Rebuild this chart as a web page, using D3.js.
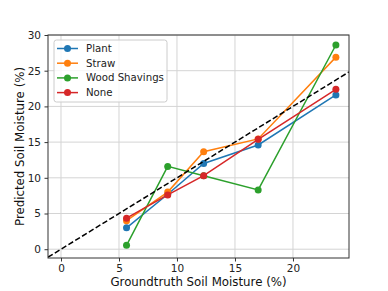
<!DOCTYPE html>
<html>
<head>
<meta charset="utf-8">
<script src="https://cdn.jsdelivr.net/npm/d3@7"></script>
<style>
  body { margin: 0; background: #fff; }
  svg { font-family: "DejaVu Sans", sans-serif; }
</style>
</head>
<body>
<div id="chart"></div>
<script>
var groundtruth = [5.65, 9.2, 12.3, 17.0, 23.7];
var plant = [3.0, 7.7, 12.0, 14.6, 21.6];
var straw = [4.0, 8.0, 13.65, 15.45, 26.9];
var woodShavings = [0.55, 11.6, 10.3, 8.3, 28.6];
var none = [4.35, 7.6, 10.3, 15.4, 22.4];
var seriesNames = ["Plant", "Straw", "Wood Shavings", "None"];
var seriesColors = ["#1f77b4", "#ff7f0e", "#2ca02c", "#d62728"];
var xTicks = [0, 5, 10, 15, 20];
var yTicks = [0, 5, 10, 15, 20, 25, 30];

var width = 388, height = 291;
var plotL = 48, plotT = 35, plotR = 349, plotB = 258;

var svg = d3.select('#chart').append('svg')
  .attr('width', width)
  .attr('height', height);

var x = d3.scaleLinear().domain([-1.12, 24.83]).range([plotL, plotR]);
var y = d3.scaleLinear().domain([-1.23, 30.0]).range([plotB, plotT]);

// grid
svg.append('g').selectAll('line')
  .data(xTicks).enter().append('line')
  .attr('x1', function (d) { return x(d); })
  .attr('x2', function (d) { return x(d); })
  .attr('y1', plotT).attr('y2', plotB)
  .style('stroke', '#d4d4d4').style('stroke-width', 1);
svg.append('g').selectAll('line')
  .data(yTicks).enter().append('line')
  .attr('y1', function (d) { return y(d); })
  .attr('y2', function (d) { return y(d); })
  .attr('x1', plotL).attr('x2', plotR)
  .style('stroke', '#d4d4d4').style('stroke-width', 1);

// axes
var xAxis = svg.append('g')
  .attr('transform', 'translate(0,' + plotB + ')')
  .call(d3.axisBottom(x).tickValues(xTicks).tickSize(3.5).tickPadding(3.5));
var yAxis = svg.append('g')
  .attr('transform', 'translate(' + plotL + ',0)')
  .call(d3.axisLeft(y).tickValues(yTicks).tickSize(3.5).tickPadding(3.5));
[xAxis, yAxis].forEach(function (a) {
  a.select('.domain').remove();
  a.selectAll('text').style('font-size', '10.5px').style('fill', '#222')
    .style('font-family', '"DejaVu Sans", sans-serif');
  a.selectAll('line').style('stroke', '#333');
});

// series
var allSeries = [plant, straw, woodShavings, none];
var line = d3.line()
  .x(function (d, i) { return x(groundtruth[i]); })
  .y(function (d) { return y(d); });

allSeries.forEach(function (vals, k) {
  svg.append('path')
    .datum(vals)
    .attr('d', line)
    .style('fill', 'none')
    .style('stroke', seriesColors[k])
    .style('stroke-width', 1.5);
  svg.selectAll('.pt' + k)
    .data(vals).enter()
    .append('circle')
    .attr('class', 'pt' + k)
    .attr('cx', function (d, i) { return x(groundtruth[i]); })
    .attr('cy', function (d) { return y(d); })
    .attr('r', 3.5)
    .style('fill', seriesColors[k]);
});

// identity line
var lo = x.domain()[0], hi = x.domain()[1];
svg.append('clipPath').attr('id', 'clip')
  .append('rect').attr('x', plotL).attr('y', plotT)
  .attr('width', plotR - plotL).attr('height', plotB - plotT);
svg.append('line')
  .attr('clip-path', 'url(#clip)')
  .attr('x1', x(lo)).attr('y1', y(lo))
  .attr('x2', x(hi)).attr('y2', y(hi))
  .style('stroke', 'black')
  .style('stroke-width', 1.5)
  .style('stroke-dasharray', '5.5,2.5');

// frame
svg.append('rect')
  .attr('x', plotL).attr('y', plotT)
  .attr('width', plotR - plotL).attr('height', plotB - plotT)
  .style('fill', 'none').style('stroke', '#333').style('stroke-width', 1);

// legend
var legendX = 54, legendY = 40, legendDY = 14.7;
svg.append('rect')
  .attr('x', legendX).attr('y', legendY)
  .attr('width', 113).attr('height', 62)
  .attr('rx', 2.5)
  .style('fill', 'white').style('fill-opacity', 0.8)
  .style('stroke', '#ccc').style('stroke-width', 1);

var legend = svg.append('g');
legend.selectAll('.legend-line')
  .data(seriesNames).enter().append('line')
  .attr('class', 'legend-line')
  .attr('x1', legendX + 3).attr('x2', legendX + 24)
  .attr('y1', function (d, i) { return legendY + 8.5 + i * legendDY; })
  .attr('y2', function (d, i) { return legendY + 8.5 + i * legendDY; })
  .style('stroke', function (d, i) { return seriesColors[i]; })
  .style('stroke-width', 1.5);
legend.selectAll('circle')
  .data(seriesNames).enter().append('circle')
  .attr('cx', legendX + 13.5)
  .attr('cy', function (d, i) { return legendY + 8.5 + i * legendDY; })
  .attr('r', 3.5)
  .style('fill', function (d, i) { return seriesColors[i]; });
legend.selectAll('.legend-text')
  .data(seriesNames).enter().append('text')
  .attr('class', 'legend-text')
  .attr('x', legendX + 32)
  .attr('y', function (d, i) { return legendY + 8.5 + i * legendDY; })
  .attr('dy', '0.35em')
  .style('font-size', '10.2px')
  .style('fill', '#222')
  .text(function (d) { return d; });

// axis labels
svg.append('text')
  .attr('x', (plotL + plotR) / 2).attr('y', 286)
  .attr('text-anchor', 'middle')
  .style('font-size', '11.8px').style('fill', '#111')
  .text('Groundtruth Soil Moisture (%)');
svg.append('text')
  .attr('transform', 'translate(24,' + (plotT + plotB) / 2 + ') rotate(-90)')
  .attr('text-anchor', 'middle')
  .style('font-size', '11.8px').style('fill', '#111')
  .text('Predicted Soil Moisture (%)');
</script>
</body>
</html>
